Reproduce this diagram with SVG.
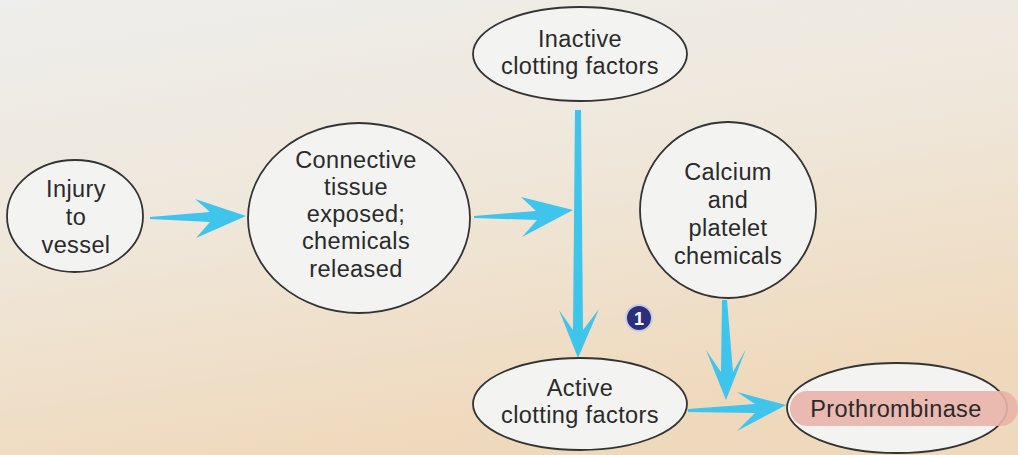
<svg xmlns="http://www.w3.org/2000/svg" width="1018" height="455" viewBox="0 0 1018 455">
<defs>
<linearGradient id="bg" x1="0" y1="0" x2="0.35" y2="1">
<stop offset="0" stop-color="#eeeeec"/>
<stop offset="0.5" stop-color="#efe7da"/>
<stop offset="1" stop-color="#efd9bc"/>
</linearGradient>
<style>
.node{fill:#f3f3f1;stroke:#333;stroke-width:1.8}
.t{font-family:"Liberation Sans",Arial,sans-serif;font-size:23.5px;letter-spacing:0.4px;fill:#2a2a2a;text-anchor:middle}
.arr{fill:#3fc4ec}
</style>
</defs>
<rect width="1018" height="455" fill="url(#bg)"/>
<g id="connectors">
<path class="arr" d="M150,217 L210,212 L195,199 L246,216 L196,238 L210,222 L150,219 Z"/>
<path class="arr" d="M474,216 L536,211 L521,197 L573,210 L522,237 L537,220 L474,218 Z"/>
<path class="arr" d="M575,110 L581,110 L583,330 L599,309 L578,358 L559,310 L573,330 Z"/>
<path class="arr" d="M722,300 L727,300 L733,372 L746,349 L726,400 L706,350 L721,372 Z"/>
<path class="arr" d="M688,409 L755,404 L737,392 L786,405 L737,431 L755,413 L688,412 Z"/>
</g>
<g id="injury">
<ellipse class="node" cx="75" cy="216" rx="68" ry="56"/>
<text class="t" x="76" y="197">Injury</text>
<text class="t" x="76" y="225">to</text>
<text class="t" x="76" y="253">vessel</text>
</g>
<g id="connective">
<ellipse class="node" cx="359" cy="218" rx="111" ry="95"/>
<text class="t" x="356" y="168">Connective</text>
<text class="t" x="356" y="195">tissue</text>
<text class="t" x="356" y="222">exposed;</text>
<text class="t" x="356" y="249">chemicals</text>
<text class="t" x="356" y="277">released</text>
</g>
<g id="inactive">
<ellipse class="node" cx="580" cy="54" rx="107" ry="47"/>
<text class="t" x="580" y="47">Inactive</text>
<text class="t" x="580" y="74">clotting factors</text>
</g>
<g id="calcium">
<ellipse class="node" cx="728" cy="210" rx="88" ry="88"/>
<text class="t" x="728" y="180">Calcium</text>
<text class="t" x="728" y="208">and</text>
<text class="t" x="728" y="236">platelet</text>
<text class="t" x="728" y="264">chemicals</text>
</g>
<g id="active">
<ellipse class="node" cx="580" cy="404" rx="107" ry="46"/>
<text class="t" x="580" y="396">Active</text>
<text class="t" x="580" y="423">clotting factors</text>
</g>
<g id="prothrombinase">
<ellipse class="node" cx="897" cy="408" rx="110" ry="45"/>
<rect x="790" y="391" width="228" height="35" rx="17" fill="#e9b2a8" opacity="0.9"/>
<text class="t" x="896" y="417">Prothrombinase</text>
</g>
<g id="badge">
<circle cx="639" cy="318" r="13" fill="#2c2f7c" stroke="#c9cbe6" stroke-width="2"/>
<text x="639" y="325" text-anchor="middle" font-family="Liberation Sans,Arial,sans-serif" font-size="18" font-weight="bold" fill="#ffffff">1</text>
</g>
</svg>
